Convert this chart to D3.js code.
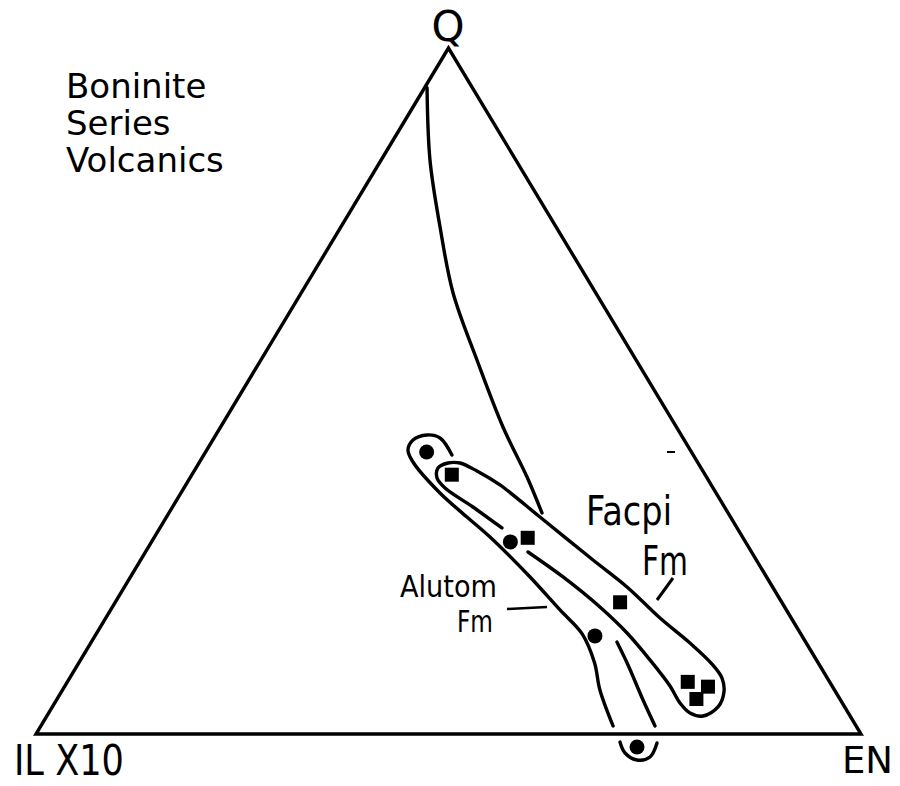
<!DOCTYPE html>
<html>
<head>
<meta charset="utf-8">
<script src="https://cdn.jsdelivr.net/npm/d3@7"></script>
<style>
  html, body { margin: 0; padding: 0; background: #fff; }
  svg { display: block; }
  text { font-family: "DejaVu Sans", "Liberation Sans", sans-serif; fill: #000; }
</style>
</head>
<body>
<svg id="chart" width="900" height="786"></svg>
<script>
// Apex labels of the ternary diagram
const apexLabels = ["Q", "IL X10", "EN"];
const titleLines = ["Boninite", "Series", "Volcanics"];

// Alutom Fm samples (circles): normative Q, IL x10, EN (percent)
const alutomQ  = [41.1, 28.0, 14.3, -1.9];
const alutomIL = [32.1, 28.5, 25.1, 28.1];
const alutomEN = [26.8, 43.5, 60.6, 73.8];

// Facpi Fm samples (squares)
const facpiQ  = [37.8, 28.6, 19.2, 7.6, 6.9, 5.1];
const facpiIL = [30.7, 26.1, 19.6, 17.2, 15.1, 17.4];
const facpiEN = [31.5, 45.3, 61.2, 75.2, 78.0, 77.5];

// Boundary curve descending from the Q corner, as [Q, EN]
const boundaryCurve = [[94.2,0.3],[83.67,5.92],[73.91,12.02],[64.29,18.41],[54.52,26.19],[44.75,34.23],[37.46,40.79],[32.22,45.22]];

// Outline of the Alutom Fm field (outer side), as [Q, EN]
const alutomOutline = [[40.67,30.08],[43.15,27.40],[43.59,25.60],[42.86,24.27],[41.40,24.39],[39.65,25.87],[35.13,31.40],[31.63,36.42],[28.72,40.67],[22.89,48.44],[18.08,54.48],[14.6,58.9],[10.4,62.5],[6.41,65.15],[1.17,69.36]];
// Inner side of the Alutom Fm field near the EN join
const alutomInner = [[13.41,63.71],[10.06,66.73],[4.96,71.10],[1.17,74.45]];
// Cup around the sample just below the base line
const alutomCup = [[-1.17,71.37],[-2.77,72.78],[-3.79,74.75],[-3.35,76.10],[-1.31,75.93]];

// Outline of the Facpi Fm field
const facpiOutline = [[30.03,41.46],[33.09,36.42],[35.86,31.65],[37.32,29.95],[38.78,29.34],[39.50,30.19],[39.50,31.64],[38.34,34.28],[36.30,38.09],[31.63,45.27],[25.36,54.84],[21.43,60.92],[16.91,67.18],[13.27,72.63],[10.20,76.84],[8.16,79.07],[6.12,80.33],[3.94,80.70],[2.62,79.54],[3.06,77.74],[4.52,75.80],[7.00,73.35],[10.79,69.03],[14.72,64.28],[18.51,59.10],[22.89,52.44],[26.53,46.37]];

const svg = d3.select("#chart");
svg.append("rect").attr("width", 900).attr("height", 786).attr("fill", "#fff");

// Ternary projection: horizontal position from EN + Q/2, vertical from Q
const x = d3.scaleLinear().domain([0, 100]).range([36, 861]);
const y = d3.scaleLinear().domain([0, 100]).range([734, 48]);
const proj = (q, en) => [x(en + q / 2), y(q)];
const norm = (q, il, en) => { const s = q + il + en; return [q / s * 100, en / s * 100]; };

const line = d3.line().curve(d3.curveLinearClosed);
const smooth = d3.line().curve(d3.curveCatmullRom.alpha(0.5));

// Triangle frame
svg.append("path")
  .attr("d", line([proj(100, 0), proj(0, 0), proj(0, 100)]))
  .attr("fill", "none").attr("stroke", "#000").attr("stroke-width", 3.4)
  .attr("stroke-linejoin", "miter");

// Curves
const curves = [boundaryCurve, alutomOutline, alutomInner, alutomCup, facpiOutline];
svg.selectAll("path.curve").data(curves).join("path")
  .attr("class", "curve")
  .attr("d", d => smooth(d.map(p => proj(p[0], p[1]))))
  .attr("fill", "none").attr("stroke", "#000").attr("stroke-width", 3.4)
  .attr("stroke-linecap", "round");

// Alutom Fm circles
const alutom = alutomQ.map((q, i) => norm(q, alutomIL[i], alutomEN[i]));
svg.selectAll("circle.alutom").data(alutom).join("circle")
  .attr("class", "alutom")
  .attr("cx", d => proj(d[0], d[1])[0])
  .attr("cy", d => proj(d[0], d[1])[1])
  .attr("r", 7.5).attr("fill", "#000");

// Facpi Fm squares
const sq = 14;
const facpi = facpiQ.map((q, i) => norm(q, facpiIL[i], facpiEN[i]));
svg.selectAll("rect.facpi").data(facpi).join("rect")
  .attr("class", "facpi")
  .attr("x", d => proj(d[0], d[1])[0] - sq / 2)
  .attr("y", d => proj(d[0], d[1])[1] - sq / 2)
  .attr("width", sq).attr("height", sq).attr("fill", "#000");

// Apex labels
svg.append("text").attr("x", 448).attr("y", 41).attr("text-anchor", "middle")
  .attr("font-size", 42).text(apexLabels[0]);
svg.append("text").attr("x", 14).attr("y", 775)
  .attr("font-size", 42).attr("textLength", 110).attr("lengthAdjust", "spacingAndGlyphs")
  .text(apexLabels[1]);
svg.append("text").attr("x", 842).attr("y", 773)
  .attr("font-size", 38).attr("textLength", 51).attr("lengthAdjust", "spacingAndGlyphs")
  .text(apexLabels[2]);

// Title block
svg.selectAll("text.title").data(titleLines).join("text")
  .attr("class", "title")
  .attr("x", 66).attr("y", (d, i) => 98 + i * 37)
  .attr("font-size", 34).text(d => d);

// Field labels and leaders
svg.append("text").attr("x", 586).attr("y", 525).attr("font-size", 40)
  .attr("textLength", 86).attr("lengthAdjust", "spacingAndGlyphs").text("Facpi");
svg.append("text").attr("x", 642).attr("y", 575).attr("font-size", 40)
  .attr("textLength", 46).attr("lengthAdjust", "spacingAndGlyphs").text("Fm");
svg.append("line").attr("x1", 673).attr("y1", 578).attr("x2", 657).attr("y2", 600)
  .attr("stroke", "#000").attr("stroke-width", 3);

svg.append("text").attr("x", 400).attr("y", 597)
  .attr("font-size", 30).attr("textLength", 97).attr("lengthAdjust", "spacingAndGlyphs").text("Alutom");
svg.append("text").attr("x", 457).attr("y", 632)
  .attr("font-size", 30).attr("textLength", 36).attr("lengthAdjust", "spacingAndGlyphs").text("Fm");
svg.append("line").attr("x1", 507).attr("y1", 609).attr("x2", 547).attr("y2", 607)
  .attr("stroke", "#000").attr("stroke-width", 2.5);

// Small tick beside the right edge
svg.append("line").attr("x1", 667).attr("y1", 452).attr("x2", 675).attr("y2", 452)
  .attr("stroke", "#000").attr("stroke-width", 2);
</script>
</body>
</html>
